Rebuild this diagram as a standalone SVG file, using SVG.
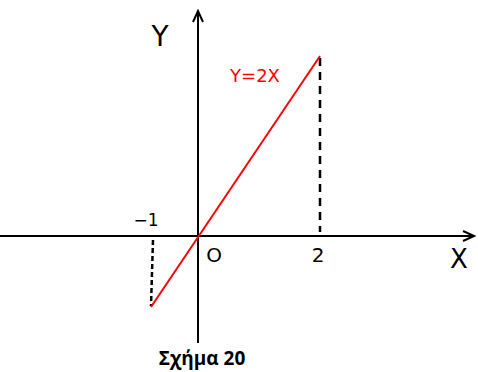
<svg xmlns="http://www.w3.org/2000/svg" width="478" height="372" viewBox="0 0 478 372">
<style>
.ax{stroke:#000;stroke-width:2;fill:none}
.dash{stroke:#000;stroke-width:2.5;fill:none;stroke-dasharray:8 6}
.dash2{stroke:#000;stroke-width:2.5;fill:none;stroke-dasharray:5 3}
.hand{font-family:"Comic Sans MS","DejaVu Sans",sans-serif;fill:#000}
.red{fill:#f00}
</style>
<defs>
<marker id="ar" markerWidth="14" markerHeight="12" refX="12" refY="6" orient="auto" markerUnits="userSpaceOnUse">
<path d="M1,1 L12,6 L1,11" fill="none" stroke="#000" stroke-width="2"/>
</marker>
</defs>
<rect width="478" height="372" fill="#fff"/>
<g id="connectors">
<line class="ax" x1="198" y1="343" x2="198" y2="11" marker-end="url(#ar)"/>
<line class="ax" x1="0" y1="236" x2="474" y2="236" marker-end="url(#ar)"/>
<line class="dash" x1="320" y1="58" x2="320" y2="232"/>
<line class="dash2" x1="153" y1="240" x2="151" y2="306"/>
<line x1="151" y1="307" x2="320" y2="56" stroke="#f00" stroke-width="2"/>
</g>
<g id="labels">
<text class="hand" x="160" y="46" font-size="28" text-anchor="middle">Y</text>
<text class="hand red" x="255" y="82" font-size="18" text-anchor="middle">Y=2X</text>
<text class="hand" x="146" y="226" font-size="17" text-anchor="middle">−1</text>
<text class="hand" x="214" y="262" font-size="20" text-anchor="middle">O</text>
<text class="hand" x="318" y="262" font-size="20" text-anchor="middle">2</text>
<text class="hand" x="459" y="268" font-size="26" text-anchor="middle">X</text>
<text x="202" y="365" font-family="'Open Sans','Noto Sans',sans-serif" font-weight="bold" font-size="19" text-anchor="middle">Σχήμα 20</text>
</g>
</svg>
